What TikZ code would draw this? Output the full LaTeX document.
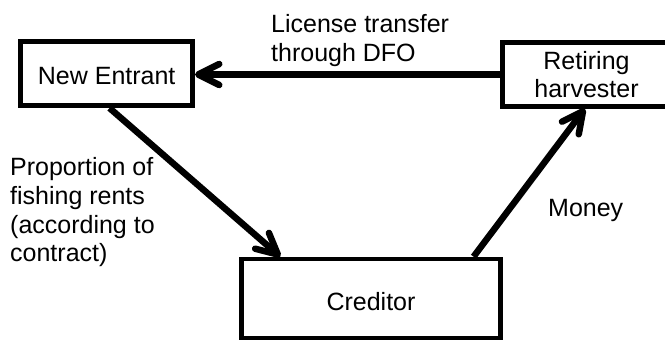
\documentclass[tikz,border=0pt]{standalone}
\usepackage{fontspec}
\setmainfont{Liberation Sans}
\usetikzlibrary{arrows.meta,calc}
\newcommand\diagfont{\fontsize{25pt}{28.7pt}\selectfont}
\begin{document}
\begin{tikzpicture}[x=1pt,y=-1pt,
  box/.style={draw, line width=4.6pt, inner sep=0pt, align=center, font=\diagfont},
  lbl/.style={inner sep=0pt, align=left, font=\diagfont},
  flow/.style={line width=6.5pt, -{Straight Barb[length=21pt,width=21pt,round]}}]
  % canvas
  \fill[white] (0,0) rectangle (665,341);
  \useasboundingbox (0,0) rectangle (665,341);
  \clip (0,0) rectangle (665,341);

  % parties
  \node[box, minimum width=172pt, minimum height=64.3pt, text height=21pt, text depth=0pt] (ne) at (106.7,73.6) {New Entrant};
  \node[box, minimum width=168.6pt, minimum height=63.6pt] (rh) at (586.5,74.5) {Retiring\\harvester};
  \node[box, minimum width=259pt, minimum height=79pt, text height=23pt, text depth=0pt] (cr) at (371,298.5) {Creditor};

  % flows between them
  \draw[flow] (rh.west) -- (rh.west -| ne.east);
  \draw[flow] ($(ne.south west)!0.516!(ne.south east)$) -- ($(cr.north west)!0.156!(cr.north east)$);
  \draw[flow] ($(cr.north west)!0.889!(cr.north east)$) -- ($(rh.south west)!0.491!(rh.south east)$);

  % flow labels
  \node[lbl, anchor=north west] (lt) at (271,14.5) {License transfer\\through DFO};
  \node[lbl, anchor=north west] (pr) at (10,157.5) {Proportion of\\fishing rents\\(according to\\contract)};
  \node[lbl, anchor=base west] (mo) at (548,216) {Money};
\end{tikzpicture}
\end{document}
